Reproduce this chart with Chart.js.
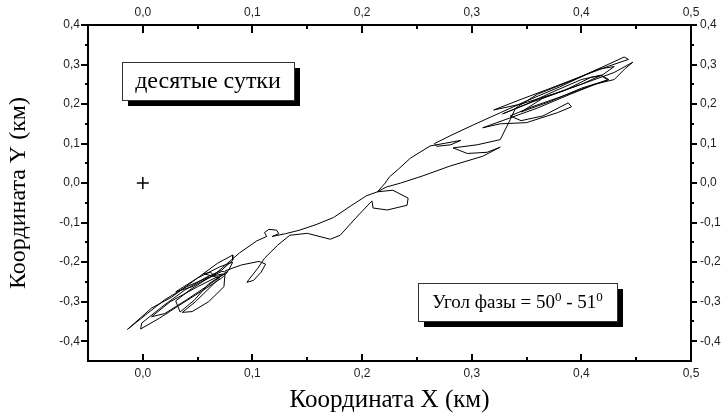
<!DOCTYPE html>
<html><head><meta charset="utf-8">
<script src="https://cdn.jsdelivr.net/npm/chart.js@4/dist/chart.umd.min.js"></script>
<style>html,body{margin:0;padding:0;background:#fff}canvas{display:block}</style>
</head><body>
<canvas id="c" width="725" height="416"></canvas>
<script>
// Trajectory (km)
const trajX = [
 0.060,0.040,0.020,0.004,-0.014,0.008,0.026,0.047,0.068,0.082,
 0.082,0.072,0.056,0.038,0.017,-0.001,-0.002,0.015,0.035,0.055,
 0.072,0.077,0.072,0.057,0.043,0.030,0.034,0.047,0.060,0.075,
 0.074,0.060,0.045,0.036,0.048,0.062,0.070,0.055,0.062,0.065,
 0.073,
 0.050,0.025,0.008,0.020,0.040,0.060,0.078,0.082,0.070,0.050,0.030,0.045,0.065,
 0.073,0.088,0.104,0.113,0.111,0.115,0.122,0.124,0.118,
 0.130,0.143,0.158,0.174,0.190,0.204,0.214,0.221,0.225,0.233,
 0.244,0.262,0.276,0.290,0.281,0.268,0.266,0.282,0.302,0.326,
 0.350,0.380,0.410,0.439,0.443,0.425,0.400,0.370,0.345,0.320,
 0.345,0.375,0.405,0.430,0.447,0.440,0.430,0.412,0.385,0.355,
 0.335,0.345,0.365,0.388,0.391,0.378,0.350,0.326,0.310,0.335,
 0.360,0.390,0.410,0.425,0.418,0.400,0.375,0.350,0.328,0.355,
 0.385,0.409,0.418,0.424,0.400,0.370,0.345,0.365,0.400,0.420,
 0.430,0.415,0.390,0.360,0.340,0.335,0.326,0.305,0.283,0.296,
 0.314,0.326,0.310,0.280,0.255,0.235,0.222,0.214,0.228,0.242,
 0.241,0.223,0.210,0.209,0.195,0.180,0.171,0.150,0.134,0.123,
 0.111,0.105,0.097,0.095,0.101,0.108,0.112,0.106,0.090,0.075];
const trajY = [
 -0.238,-0.262,-0.295,-0.330,-0.370,-0.316,-0.289,-0.246,-0.203,-0.182,
 -0.195,-0.220,-0.241,-0.271,-0.314,-0.354,-0.369,-0.342,-0.306,-0.271,
 -0.240,-0.226,-0.223,-0.245,-0.270,-0.298,-0.326,-0.296,-0.255,-0.228,
 -0.262,-0.300,-0.325,-0.327,-0.300,-0.262,-0.240,-0.229,-0.226,-0.234,
 -0.230,
 -0.262,-0.300,-0.338,-0.330,-0.295,-0.258,-0.222,-0.200,-0.212,-0.240,-0.275,-0.262,-0.232,
 -0.213,-0.177,-0.146,-0.135,-0.125,-0.117,-0.119,-0.128,-0.135,
 -0.128,-0.119,-0.105,-0.087,-0.057,-0.032,-0.022,0.000,0.016,0.035,
 0.063,0.094,0.101,0.108,0.097,0.093,0.100,0.122,0.148,0.178,
 0.208,0.243,0.282,0.319,0.313,0.296,0.270,0.238,0.212,0.185,
 0.200,0.226,0.255,0.280,0.306,0.290,0.262,0.250,0.222,0.193,
 0.170,0.158,0.170,0.203,0.193,0.178,0.153,0.150,0.140,0.165,
 0.190,0.225,0.247,0.262,0.273,0.262,0.232,0.200,0.175,0.205,
 0.235,0.268,0.272,0.261,0.240,0.205,0.180,0.215,0.250,0.275,
 0.295,0.288,0.258,0.225,0.190,0.160,0.110,0.097,0.089,0.075,
 0.078,0.091,0.068,0.043,0.018,0.000,-0.010,-0.022,-0.018,-0.038,
 -0.056,-0.068,-0.063,-0.045,-0.086,-0.132,-0.142,-0.127,-0.132,-0.157,
 -0.190,-0.215,-0.243,-0.251,-0.246,-0.225,-0.205,-0.198,-0.207,-0.222];
const markerX = [0];
const markerY = [0];

const xRange = [-0.05, 0.5];
const yRange = [-0.45, 0.4];
const xMajorTicks = [0, 0.1, 0.2, 0.3, 0.4, 0.5];
const xTickLabels = ['0,0','0,1','0,2','0,3','0,4','0,5'];
const xMinorTicks = [0.05, 0.15, 0.25, 0.35, 0.45];
const yMajorTicks = [-0.4, -0.3, -0.2, -0.1, 0, 0.1, 0.2, 0.3, 0.4];
const yTickLabels = ['-0,4','-0,3','-0,2','-0,1','0,0','0,1','0,2','0,3','0,4'];
const yMinorTicks = [-0.35, -0.25, -0.15, -0.05, 0.05, 0.15, 0.25, 0.35];

const xTitle = 'Координата X (км)';
const yTitle = 'Координата Y (км)';
const note1 = 'десятые сутки';
const note2Parts = ['Угол фазы = 50', '0', ' - 51', '0'];

Chart.defaults.font.family = "'Liberation Sans', Arial, sans-serif";
const serif = "'Liberation Serif', 'Times New Roman', serif";

const tickPlugin = {
  id: 'minorMajorTicks',
  afterDraw(chart) {
    const ctx = chart.ctx;
    const {left, right, top, bottom} = chart.chartArea;
    const sx = chart.scales.x, sy = chart.scales.y;
    ctx.save();
    ctx.strokeStyle = '#000';
    ctx.lineWidth = 2;
    ctx.beginPath();
    xMajorTicks.forEach(v => { const p = Math.round(sx.getPixelForValue(v));
      ctx.moveTo(p, bottom); ctx.lineTo(p, bottom - 7);
      ctx.moveTo(p, top); ctx.lineTo(p, top + 8); });
    xMinorTicks.forEach(v => { const p = Math.round(sx.getPixelForValue(v));
      ctx.moveTo(p, bottom); ctx.lineTo(p, bottom - 4);
      ctx.moveTo(p, top); ctx.lineTo(p, top + 4); });
    yMajorTicks.forEach(v => { const p = Math.round(sy.getPixelForValue(v));
      ctx.moveTo(left, p); ctx.lineTo(left - 7, p);
      ctx.moveTo(right, p); ctx.lineTo(right + 6, p); });
    yMinorTicks.forEach(v => { const p = Math.round(sy.getPixelForValue(v));
      ctx.moveTo(left, p); ctx.lineTo(left - 3, p);
      ctx.moveTo(right, p); ctx.lineTo(right + 3, p); });
    ctx.stroke();
    ctx.restore();
  }
};

const notesPlugin = {
  id: 'notes',
  afterDatasetsDraw(chart) {
    const ctx = chart.ctx;
    ctx.save();
    function box(x, y, w, h) {
      ctx.fillStyle = '#000';
      ctx.fillRect(x + 6, y + 6, w, h);
      ctx.fillStyle = '#fff';
      ctx.fillRect(x, y, w, h);
      ctx.strokeStyle = '#333';
      ctx.lineWidth = 1;
      ctx.strokeRect(x + 0.5, y + 0.5, w, h);
      ctx.fillStyle = '#000';
    }
    box(122, 62, 172, 38);
    ctx.font = '24px ' + serif;
    ctx.textAlign = 'center';
    ctx.textBaseline = 'middle';
    ctx.fillText(note1, 208, 82);

    box(418, 283, 199, 38);
    const big = '19px ' + serif, small = '13px ' + serif;
    ctx.textAlign = 'left';
    ctx.textBaseline = 'alphabetic';
    const fonts = [big, small, big, small];
    const widths = note2Parts.map((t, i) => { ctx.font = fonts[i]; return ctx.measureText(t).width; });
    let x = 517.5 - widths.reduce((a, b) => a + b, 0) / 2;
    const base = 308;
    note2Parts.forEach((t, i) => {
      ctx.font = fonts[i];
      ctx.fillText(t, x, i % 2 ? base - 7 : base);
      x += widths[i];
    });
    ctx.restore();
  }
};

const trajData = trajX.map((x, i) => ({x: x, y: trajY[i]}));
const markerData = markerX.map((x, i) => ({x: x, y: markerY[i]}));

const axisCommon = {
  type: 'linear',
  grid: {display: true, drawOnChartArea: false, drawTicks: false},
  border: {display: true, color: '#000', width: 2}
};

new Chart(document.getElementById('c'), {
  type: 'scatter',
  data: {
    datasets: [
      {data: trajData, showLine: true, borderColor: '#000', borderWidth: 1, pointRadius: 0, tension: 0, fill: false, xAxisID: 'x', yAxisID: 'y'},
      {data: markerData, showLine: false, pointStyle: 'cross', pointRadius: 6, borderColor: '#000', borderWidth: 1.5, xAxisID: 'x', yAxisID: 'y'}
    ]
  },
  options: {
    responsive: false,
    animation: false,
    layout: {padding: 0},
    plugins: {legend: {display: false}, tooltip: {enabled: false}},
    scales: {
      x: Object.assign({}, axisCommon, {
        position: 'bottom', min: xRange[0], max: xRange[1],
        afterBuildTicks: s => { s.ticks = xMajorTicks.map(v => ({value: v})); },
        afterFit: s => { s.height = 55; },
        ticks: {callback: (v, i) => xTickLabels[i], padding: 5, color: '#222', font: {size: 12}, maxRotation: 0, autoSkip: false},
        title: {display: true, text: xTitle, color: '#000', font: {family: serif, size: 25}, padding: {top: 1, bottom: 1}}
      }),
      x2: Object.assign({}, axisCommon, {
        position: 'top', min: xRange[0], max: xRange[1],
        afterBuildTicks: s => { s.ticks = xMajorTicks.map(v => ({value: v})); },
        afterFit: s => { s.height = 25; },
        ticks: {callback: (v, i) => xTickLabels[i], padding: 5, color: '#222', font: {size: 12}, maxRotation: 0, autoSkip: false}
      }),
      y: Object.assign({}, axisCommon, {
        position: 'left', min: yRange[0], max: yRange[1],
        afterBuildTicks: s => { s.ticks = yMajorTicks.map(v => ({value: v})); },
        afterFit: s => { s.width = 88; },
        ticks: {callback: (v, i) => yTickLabels[i], padding: 8, color: '#222', font: {size: 12}, autoSkip: false},
        title: {display: true, text: yTitle, color: '#000', font: {family: serif, size: 24}, padding: {top: 4, bottom: 4}}
      }),
      y2: Object.assign({}, axisCommon, {
        position: 'right', min: yRange[0], max: yRange[1],
        afterBuildTicks: s => { s.ticks = yMajorTicks.map(v => ({value: v})); },
        afterFit: s => { s.width = 34; },
        ticks: {callback: (v, i) => yTickLabels[i], padding: 9, color: '#222', font: {size: 12}, autoSkip: false}
      })
    }
  },
  plugins: [tickPlugin, notesPlugin]
});
</script>
</body></html>
